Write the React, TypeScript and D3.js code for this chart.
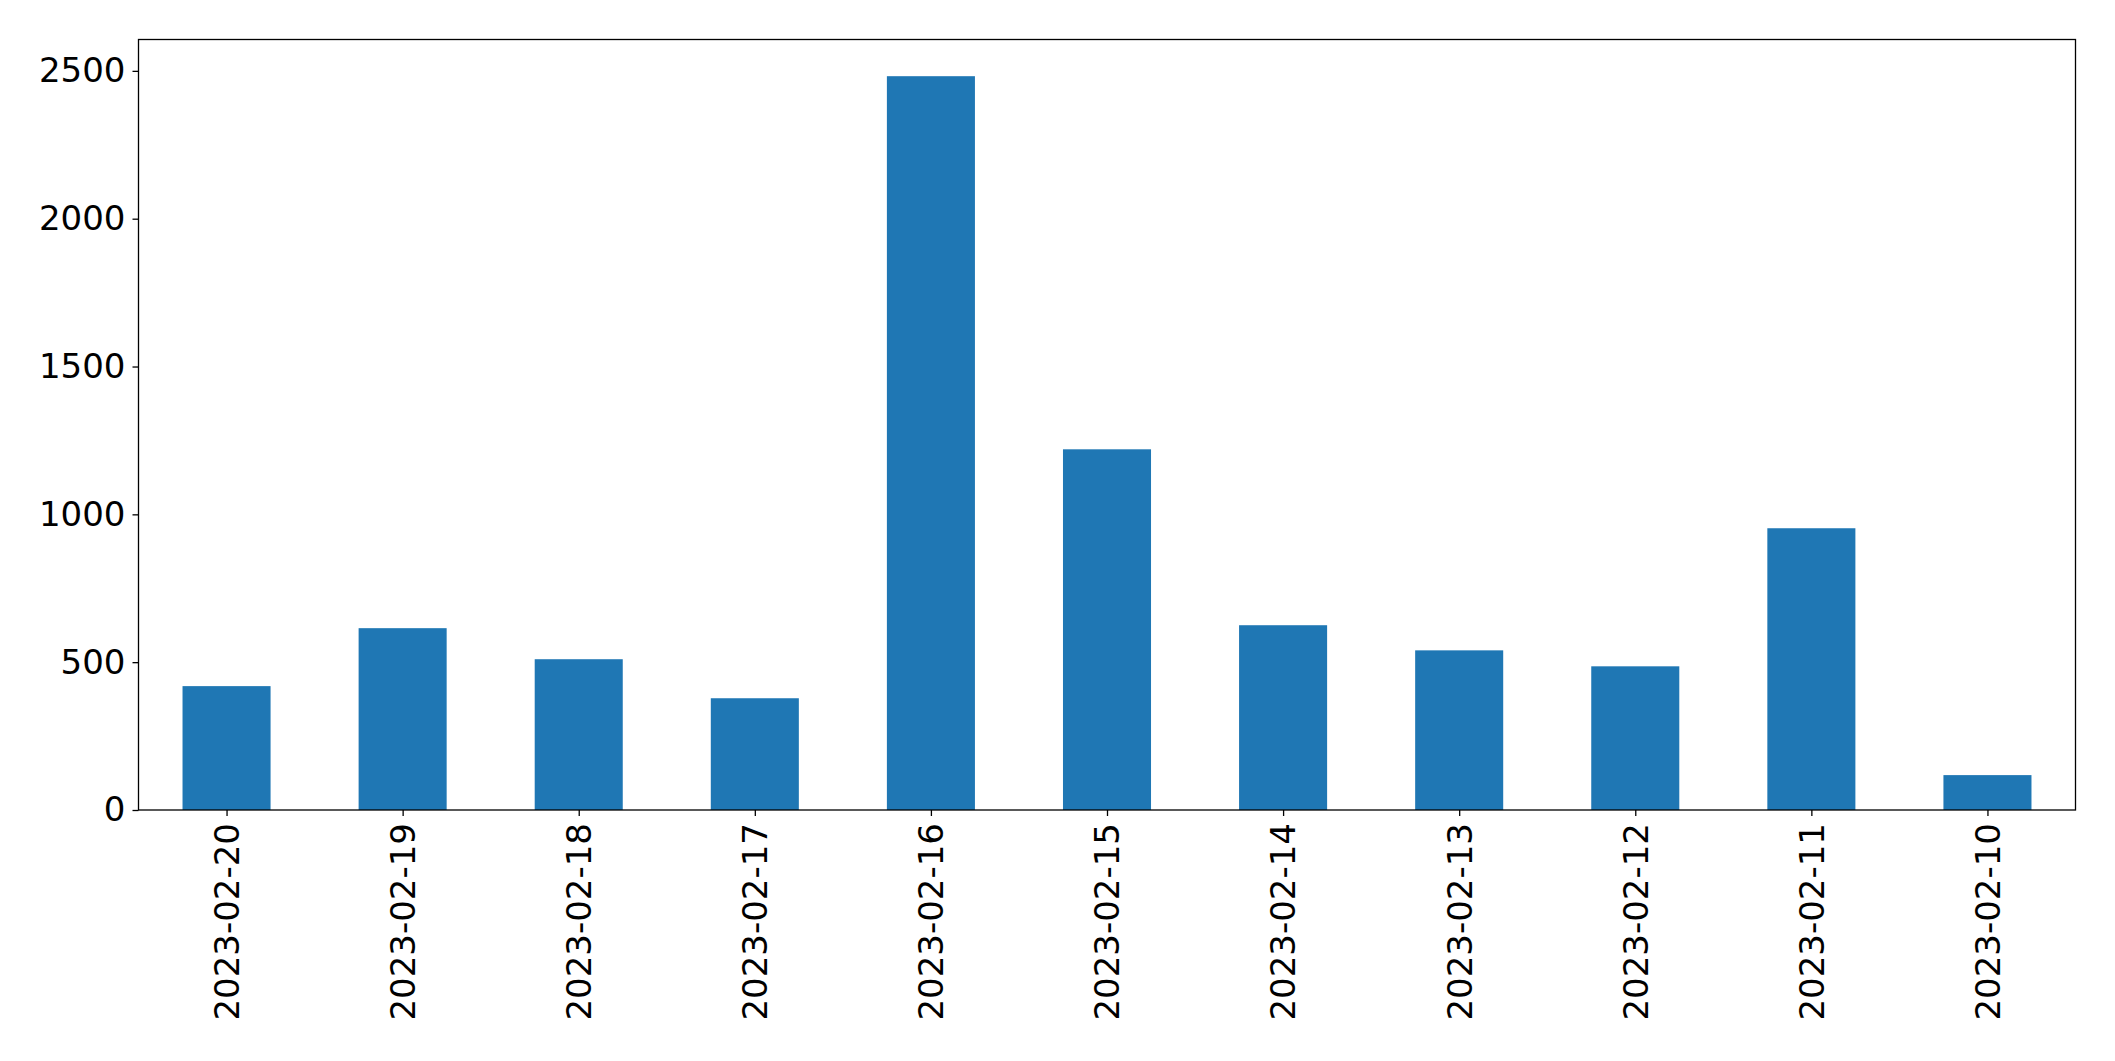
import React, { useEffect, useRef } from 'react';
import * as d3 from 'd3';

const dates = [
  '2023-02-20', '2023-02-19', '2023-02-18', '2023-02-17', '2023-02-16', '2023-02-15',
  '2023-02-14', '2023-02-13', '2023-02-12', '2023-02-11', '2023-02-10',
];
const counts = [419, 615, 510, 378, 2482, 1220, 625, 540, 486, 953, 118];
const yTicks = [0, 500, 1000, 1500, 2000, 2500];

const width = 2115;
const height = 1061;
const margin = { top: 39.5, right: 39.5, bottom: 251, left: 138.5 };
const fontSize = '34px';

export default function App() {
  const svgRef = useRef<SVGSVGElement>(null);

  useEffect(() => {
    if (!svgRef.current) return;
    const svg = d3.select(svgRef.current);
    svg.selectAll('*').remove();

    const innerWidth = width - margin.left - margin.right;
    const innerHeight = height - margin.top - margin.bottom;

    const g = svg.append('g').attr('transform', `translate(${margin.left},${margin.top})`);

    // pandas-style bar layout: xlim -0.5..n-0.5, bar width 0.5
    const x = d3.scaleLinear().domain([-0.5, dates.length - 0.5]).range([0, innerWidth]);
    const y = d3.scaleLinear().domain([0, d3.max(counts)! * 1.05]).range([innerHeight, 0]);

    g.selectAll('rect.bar')
      .data(counts)
      .enter()
      .append('rect')
      .attr('class', 'bar')
      .attr('x', (_, i) => x(i - 0.25))
      .attr('width', (_, i) => x(i + 0.25) - x(i - 0.25))
      .attr('y', d => y(d))
      .attr('height', d => innerHeight - y(d))
      .attr('fill', '#1f77b4');

    // y axis
    const yAxis = d3.axisLeft(y).tickValues(yTicks).tickSize(6).tickPadding(7).tickFormat(d3.format('d'));
    const yg = g.append('g').call(yAxis);
    yg.select('.domain').remove();
    yg.selectAll('line').attr('stroke', '#000').attr('stroke-width', 1.3);
    yg.selectAll('text')
      .style('font-family', '"DejaVu Sans", sans-serif')
      .style('font-size', fontSize)
      .attr('fill', '#000');

    // x axis
    const xAxis = d3.axisBottom(x).tickValues(d3.range(dates.length)).tickSize(6).tickFormat(i => dates[i as number]);
    const xg = g.append('g').attr('transform', `translate(0,${innerHeight})`).call(xAxis);
    xg.select('.domain').remove();
    xg.selectAll('line').attr('stroke', '#000').attr('stroke-width', 1.3);
    xg.selectAll('text')
      .style('font-family', '"DejaVu Sans", sans-serif')
      .style('font-size', fontSize)
      .attr('fill', '#000')
      .attr('transform', 'rotate(-90)')
      .attr('x', -13)
      .attr('y', 0)
      .attr('dy', '0.35em')
      .style('text-anchor', 'end');

    // frame
    g.append('rect')
      .attr('x', 0)
      .attr('y', 0)
      .attr('width', innerWidth)
      .attr('height', innerHeight)
      .attr('fill', 'none')
      .attr('stroke', '#000')
      .attr('stroke-width', 1.3);
  }, []);

  return (
    <div style={{ position: 'absolute', left: 0, top: 0, background: '#fff' }}>
      <svg ref={svgRef} width={width} height={height} style={{ display: 'block' }} />
    </div>
  );
}
